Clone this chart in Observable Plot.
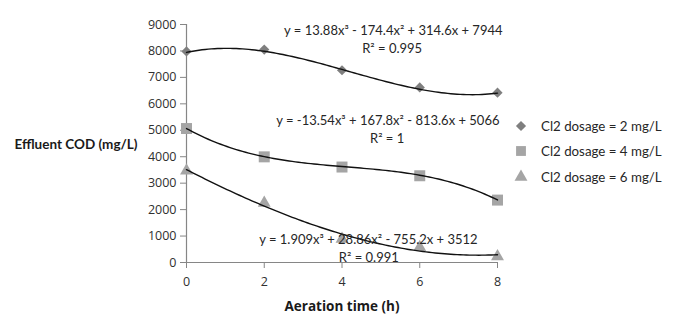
<!DOCTYPE html>
<html><head><meta charset="utf-8">
<script src="https://cdn.jsdelivr.net/npm/d3@7"></script>
<script src="https://cdn.jsdelivr.net/npm/@observablehq/plot@0.6"></script>
<style>
body{margin:0;background:#fff;}
#wrap{position:relative;width:683px;height:314px;font-family:Lato,"Open Sans",sans-serif;}
#legend{position:absolute;left:513px;top:113px;font-size:13.3px;color:#262626;}
.row{display:flex;align-items:center;height:25.5px;white-space:nowrap;}
.row svg{margin-right:12px;}
svg [aria-label="x-axis label"] text{font-weight:bold;font-size:13.5px;fill:#1a1a1a;}
</style></head><body><div id="wrap"></div>
<script>
const times = [0, 2, 4, 6, 8];
const series = ["Cl2 dosage = 2 mg/L", "Cl2 dosage = 4 mg/L", "Cl2 dosage = 6 mg/L"];
const cod2 = [7980, 8050, 7270, 6620, 6420];
const cod4 = [5066, 3995, 3610, 3280, 2360];
const cod6 = [3470, 2250, 890, 575, 230];
// trendline coefficients (c0 + c1 x + c2 x^2 + c3 x^3) as printed on the chart
const coef2 = [7944, 314.6, -174.4, 13.88];
const coef4 = [5066, -813.6, 167.8, -13.54];
const coef6 = [3512, -755.2, 28.86, 1.909];
const eqLabels = [
  "y = 13.88x³ - 174.4x² + 314.6x + 7944",
  "y = -13.54x³ + 167.8x² - 813.6x + 5066",
  "y = 1.909x³ + 28.86x² - 755.2x + 3512"
];
const r2Labels = ["R² = 0.995", "R² = 1", "R² = 0.991"];
const yTicks = d3.range(0, 9001, 1000);
const xTicks = [0, 2, 4, 6, 8];
const yTitle = "Effluent COD (mg/L)";
const xTitle = "Aeration time (h)";

const symbols = ["diamond2", "square", "triangle"];
const fills = ["#7f7f7f", "#a5a5a5", "#a5a5a5"];
const radii = [4.6, 6.2, 4.8];
const allCod = [cod2, cod4, cod6];
const allCoef = [coef2, coef4, coef6];

const points = [];
allCod.forEach((arr, s) => arr.forEach((v, i) => points.push({series: series[s], s, t: times[i], v})));
const trend = [];
const xs = d3.range(0, 8.0001, 0.08);
allCoef.forEach((c, s) => xs.forEach(x => trend.push({s, x, y: c[0] + c[1]*x + c[2]*x*x + c[3]*x*x*x})));

// annotation anchors (data space)
const eqPos = [[5.32, 8747], [5.18, 5343], [4.68, 843]];
const r2Pos = [[5.29, 8093], [5.16, 4663], [4.69, 189]];
const ann = [];
eqLabels.forEach((t, i) => ann.push({t, x: eqPos[i][0], y: eqPos[i][1]}));
r2Labels.forEach((t, i) => ann.push({t, x: r2Pos[i][0], y: r2Pos[i][1]}));

const plot = Plot.plot({
  width: 683, height: 314,
  marginLeft: 186, marginRight: 186, marginTop: 24, marginBottom: 52,
  style: {fontFamily: "Lato, 'Open Sans', sans-serif", fontSize: "13px", background: "transparent", overflow: "visible"},
  x: {domain: [0, 8]},
  y: {domain: [0, 9000]},
  marks: [
    Plot.ruleY([0], {stroke: "#868686", strokeWidth: 1.2}),
    Plot.ruleX([0], {stroke: "#868686", strokeWidth: 1.2}),
    Plot.axisY({ticks: yTicks, tickSize: 6, tickPadding: 4, stroke: "#868686", fill: "#303030", fontSize: 12.5, fontFamily: "'Open Sans', sans-serif", label: null, tickFormat: d => String(d)}),
    Plot.axisX({ticks: xTicks, tickSize: 6, tickPadding: 9, stroke: "#868686", fill: "#303030", fontSize: 12.5, fontFamily: "'Open Sans', sans-serif", label: xTitle, labelAnchor: "center", labelArrow: "none", labelOffset: 48}),
    ...[0, 1, 2].map(s => Plot.dot(points.filter(d => d.s === s), {x: "t", y: "v", symbol: () => symbols[s], fill: fills[s], r: radii[s], stroke: "none"})),
    Plot.line(trend, {x: "x", y: "y", z: "s", stroke: "#111", strokeWidth: 1.4, curve: "linear"}),
    Plot.text(ann, {x: "x", y: "y", text: "t", fill: "#262626", fontSize: 13, textAnchor: "middle"}),
    Plot.text([yTitle], {text: d => d, frameAnchor: "left", textAnchor: "middle", dx: -110.5, dy: 1, fontWeight: "bold", fontSize: 13.5, fill: "#1a1a1a"})
  ]
});
const wrap = document.getElementById("wrap");
wrap.appendChild(plot);

const legend = document.createElement("div");
legend.id = "legend";
const d3sym = {diamond2: d3.symbolDiamond2, square: d3.symbolSquare, triangle: d3.symbolTriangle};
series.forEach((name, i) => {
  const row = document.createElement("div");
  row.className = "row";
  const path = d3.symbol(d3sym[symbols[i]], Math.PI * radii[i] * radii[i] * (i === 1 ? 0.8 : 1))();
  row.innerHTML = `<svg width="16" height="16" viewBox="-8 -8 16 16"><path d="${path}" fill="${fills[i]}"/></svg><span>${name}</span>`;
  legend.appendChild(row);
});
wrap.appendChild(legend);
</script>
</body></html>
